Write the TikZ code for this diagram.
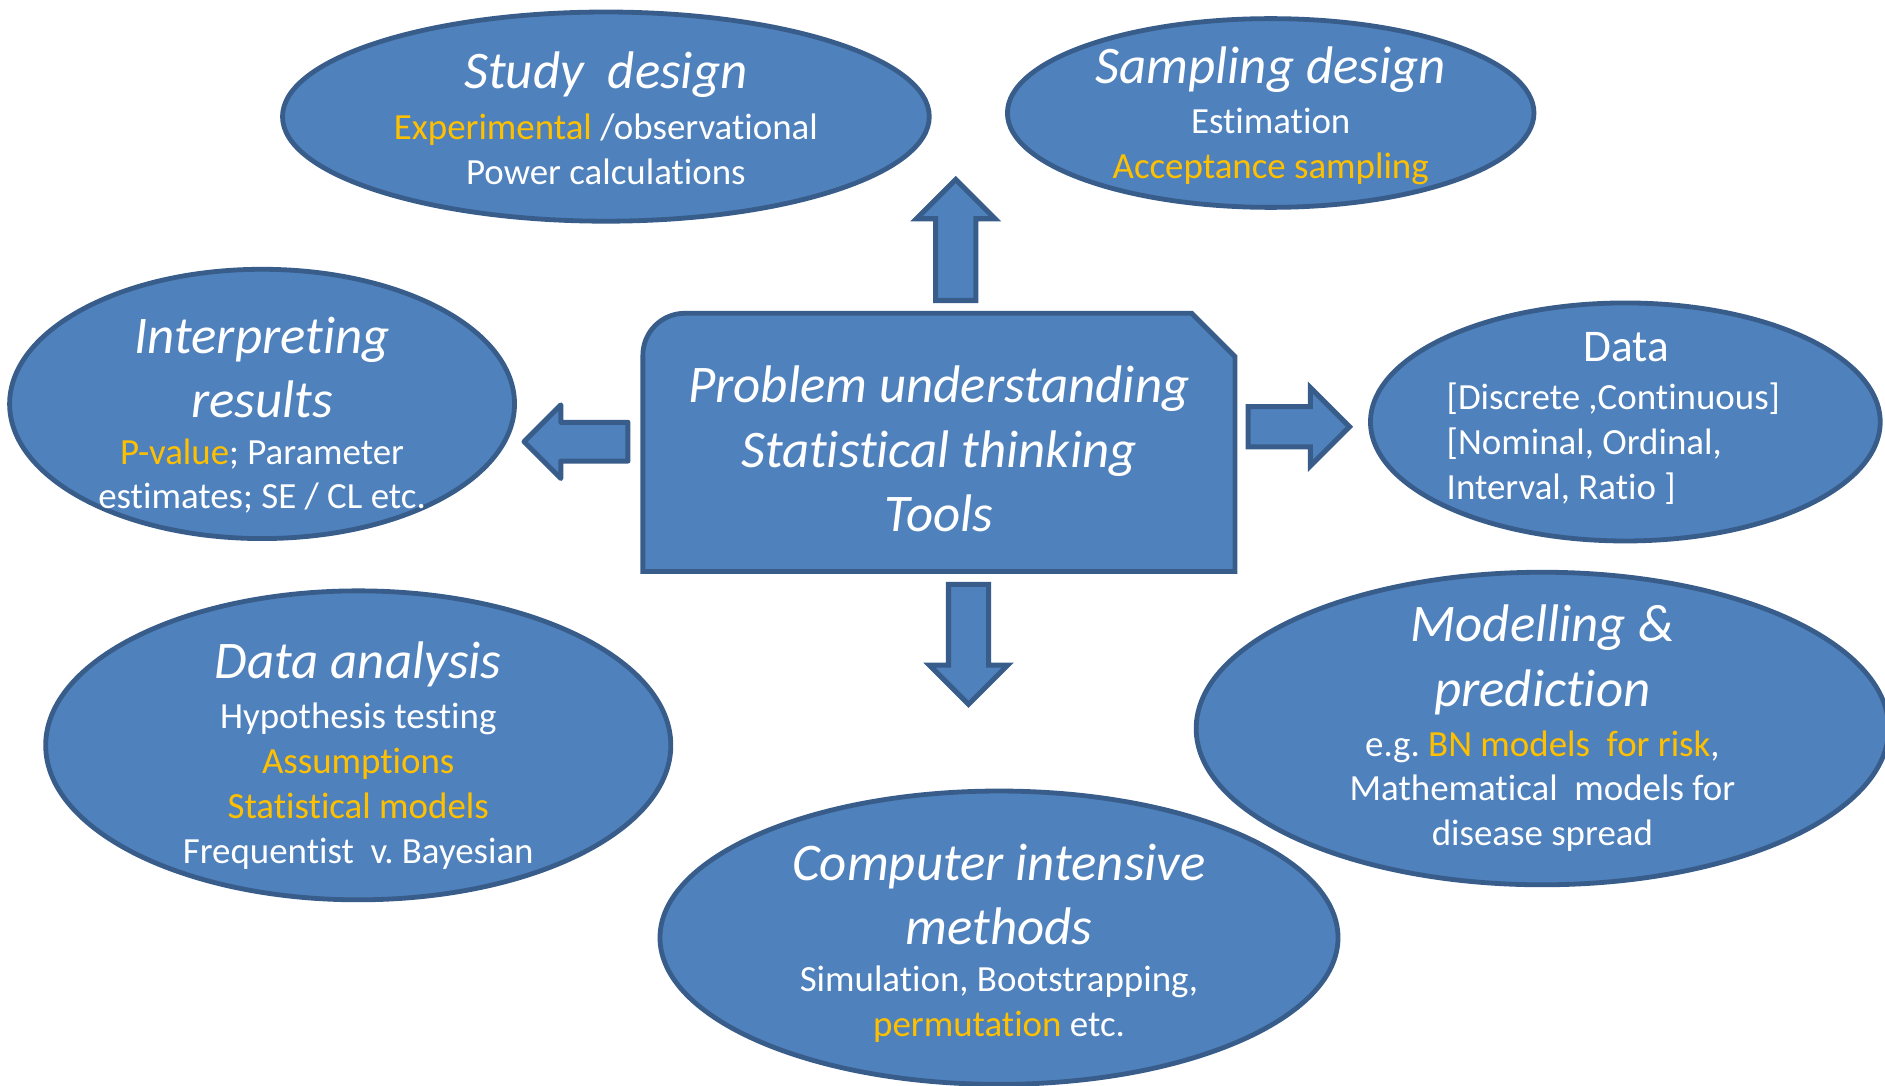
\documentclass[tikz,border=0pt]{standalone}
\usepackage{fontspec}
\setmainfont{Carlito}[Ligatures={NoCommon}]
\usetikzlibrary{shapes.geometric,shapes.arrows}
\definecolor{ovalblue}{HTML}{4F81BD}
\definecolor{rimblue}{HTML}{385D8A}
\definecolor{hilite}{HTML}{FFC000}
\frenchspacing

\begin{document}
\begin{tikzpicture}[x=0.5pt,y=-0.5pt,
  bubble/.style={ellipse,draw=rimblue,fill=ovalblue,line width=2pt,inner sep=0pt},
  blockarrow/.style={single arrow,draw=rimblue,fill=ovalblue,line width=2.1pt,
    inner xsep=0pt,inner ysep=7.3pt,single arrow head extend=7.95pt,minimum width=30.5pt},
  titletext/.style={text=white,font=\fontsize{22}{26.75}\selectfont\itshape,align=center,inner sep=0pt},
  bodytext/.style={text=white,font=\fontsize{15.35}{18.65}\selectfont,align=center,inner sep=0pt}]
\path[fill=white,use as bounding box] (0,0) rectangle (1568,903);

% the seven ovals
\coordinate (c1) at (504,97);
\coordinate (c2) at (1057,94);
\coordinate (c3) at (218,336);
\coordinate (c4) at (1352,351);
\coordinate (c5) at (298,620);
\coordinate (c6) at (1283,606);
\coordinate (c7) at (831,780);
\node[bubble,minimum width=269pt,minimum height=87pt] (study) at (c1) {};
\node[bubble,minimum width=219pt,minimum height=78.5pt] (sampling) at (c2) {};
\node[bubble,minimum width=210pt,minimum height=112pt] (interp) at (c3) {};
\node[bubble,minimum width=212pt,minimum height=99pt] (data) at (c4) {};
\node[bubble,minimum width=260pt,minimum height=128.5pt] (analysis) at (c5) {};
\node[bubble,minimum width=288pt,minimum height=130pt] (model) at (c6) {};
\node[bubble,minimum width=282pt,minimum height=122pt] (computer) at (c7) {};

% centre box: rounded top left, snipped top right
\node[minimum width=246.25pt,minimum height=107.4pt,inner sep=0pt,outer sep=0pt] (problem) at (781,368) {};
\draw[draw=rimblue,fill=ovalblue,line width=2pt]
  (problem.south west) -- ([yshift=-17.5pt]problem.north west)
  .. controls ([yshift=-7.8pt]problem.north west) and ([xshift=7.8pt]problem.north west) .. ([xshift=17.5pt]problem.north west)
  -- ([xshift=-18pt]problem.north east) -- ([yshift=-18pt]problem.north east)
  -- (problem.south east) -- cycle;

% block arrows
\node[blockarrow,rotate=90,minimum height=50.3pt] (arr-up) at (795,208) {};
\node[blockarrow,rotate=-90,minimum height=49.9pt] (arr-down) at (805.7,527.6) {};
\node[blockarrow,rotate=180,minimum height=43.2pt,inner ysep=7pt,
  single arrow head extend=7.25pt,minimum width=28.5pt,line join=round] (arr-left) at (487.2,367.4) {};
\node[blockarrow,minimum height=42.2pt] (arr-right) at (1072,355) {};

% texts
\node[titletext] (problem-t) at (781,373.5) {Problem understanding\\Statistical thinking\\Tools};

\node[titletext] (study-t) at (504,62) {Study~ design};
\node[bodytext] (study-b) at (504,124.5) {\textcolor{hilite}{Experimental} /observational\\Power calculations};

\node[titletext] (sampling-t) at (1057,58) {Sampling design};
\node[bodytext] (sampling-b) at (1057,122) {Estimation\\\textcolor{hilite}{Acceptance sampling}};

\node[titletext] (interp-t) at (218,305.5) {Interpreting\\results};
\node[bodytext] (interp-b) at (218,396) {\textcolor{hilite}{P-value}; Parameter\\estimates; SE / CL etc.};

\node[bodytext,font=\fontsize{18.85}{22}\selectfont] (data-t) at (1353,289) {Data};
\node[bodytext,align=left,anchor=west] (data-b) at (1203,369) {[Discrete ,Continuous]\\{[}Nominal, Ordinal,\\Interval, Ratio ]};

\node[titletext] (analysis-t) at (298,553) {Data analysis};
\node[bodytext] (analysis-b) at (298,654) {Hypothesis testing\\\textcolor{hilite}{Assumptions}\\\textcolor{hilite}{Statistical models}\\Frequentist~ v. Bayesian};

\node[titletext] (model-t) at (1283,549) {Modelling \&\\prediction};
\node[bodytext] (model-b) at (1283,658) {e.g. \textcolor{hilite}{BN models~ for risk},\\Mathematical~ models for\\disease spread};

\node[titletext] (computer-t) at (831,744) {Computer intensive\\methods};
\node[bodytext] (computer-b) at (831,835.5) {Simulation, Bootstrapping,\\\textcolor{hilite}{permutation} etc.};
\end{tikzpicture}
\end{document}
